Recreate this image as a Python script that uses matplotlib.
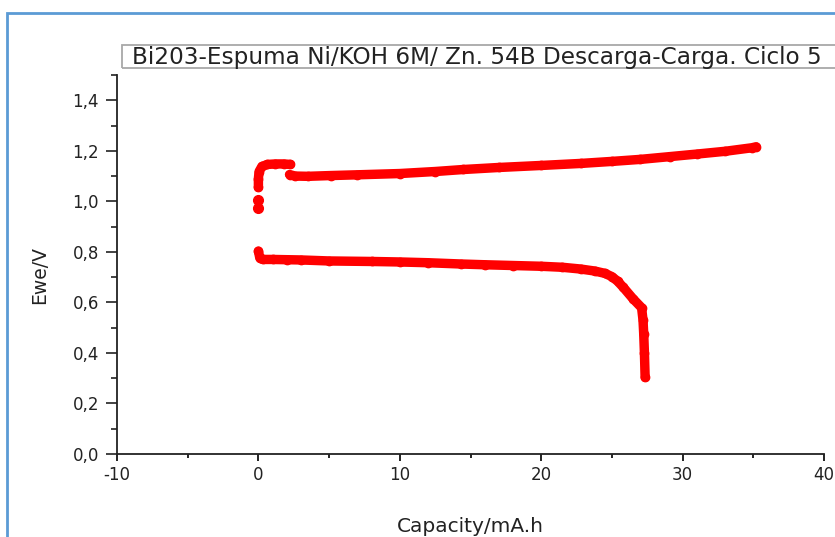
import matplotlib
matplotlib.use('Agg')
import matplotlib.pyplot as plt
from matplotlib.patches import Rectangle
from matplotlib.ticker import MultipleLocator, FuncFormatter

# discharge (lower curve)
discharge_cap = [0.0, 0.1, 0.3, 1.0, 2.0, 3.0, 5.0, 8.0, 10.0, 12.0, 14.3, 16.0, 18.0,
                 20.0, 21.5, 22.8, 23.8, 24.5, 25.0, 25.4, 25.8, 26.5, 27.1, 27.2, 27.25, 27.3, 27.35]
discharge_v = [0.803, 0.776, 0.770, 0.770, 0.769, 0.768, 0.764, 0.762, 0.760, 0.757, 0.752, 0.749, 0.746,
               0.743, 0.739, 0.732, 0.724, 0.715, 0.702, 0.684, 0.660, 0.614, 0.579, 0.530, 0.476, 0.400, 0.303]

# charge (upper curve): first two points are isolated, then a plateau, then a jump down
charge_cap = [0.0, 0.0,
              0.0, 0.0, 0.05, 0.25, 0.64, 1.2, 1.8, 2.26,
              2.2, 2.6, 3.5, 5.1, 7.0, 10.0, 12.5, 14.5, 17.0, 20.0, 22.8, 25.0, 27.0, 29.1, 31.0, 33.0, 34.9, 35.2]
charge_v = [0.975, 1.005,
            1.055, 1.090, 1.118, 1.138, 1.146, 1.148, 1.148, 1.146,
            1.106, 1.100, 1.099, 1.102, 1.105, 1.110, 1.118, 1.126, 1.134, 1.142, 1.150, 1.158, 1.166, 1.177,
            1.187, 1.198, 1.212, 1.216]

title_text = "Bi203-Espuma Ni/KOH 6M/ Zn. 54B Descarga-Carga. Ciclo 5"

W, H = 835, 537
fig = plt.figure(figsize=(W / 100, H / 100), dpi=100)
plt.rcParams['font.family'] = ['DejaVu Sans']

ax = fig.add_axes([117 / W, 1 - 454 / H, (824 - 117) / W, (454 - 75) / H])

red = '#ff0000'
style = dict(color=red, lw=6.8, solid_capstyle='round', solid_joinstyle='round',
             marker='o', ms=6, mec=red, mfc=red)
ax.plot(discharge_cap, discharge_v, **style)
ax.plot(charge_cap[2:10], charge_v[2:10], **style)
ax.plot(charge_cap[10:], charge_v[10:], **style)
ax.plot(charge_cap[:2], charge_v[:2], ls='none', marker='o', ms=7, color=red)

ax.set_xlim(-10, 40)
ax.set_ylim(0, 1.5)
ax.xaxis.set_major_locator(MultipleLocator(10))
ax.xaxis.set_minor_locator(MultipleLocator(5))
ax.yaxis.set_major_locator(MultipleLocator(0.2))
ax.yaxis.set_minor_locator(MultipleLocator(0.1))
ax.yaxis.set_major_formatter(FuncFormatter(lambda v, p: f"{v:.1f}".replace('.', ',')))
ax.xaxis.set_major_formatter(FuncFormatter(lambda v, p: f"{v:.0f}"))

for s in ['top', 'right']:
    ax.spines[s].set_visible(False)
for s in ['left', 'bottom']:
    ax.spines[s].set_linewidth(1.3)
    ax.spines[s].set_color('#222222')

ax.tick_params(axis='y', which='major', direction='out', length=8, width=1.2, pad=5,
               labelsize=12, colors='#222222')
ax.tick_params(axis='y', which='minor', direction='out', length=4, width=1.2, colors='#222222')
ax.tick_params(axis='x', which='major', direction='out', length=5, width=1.4, pad=4,
               labelsize=12, colors='#222222')
ax.tick_params(axis='x', which='minor', direction='out', length=3, width=1.4, colors='#222222')

ax.set_xlabel("Capacity/mA.h", fontsize=14.5, color='#222222')
ax.set_ylabel("Ewe/V", fontsize=13.5, color='#222222')
ax.xaxis.set_label_coords((470 - 117) / 707, (454 - 526) / 379)
ax.yaxis.set_label_coords((40 - 117) / 707, (454 - 275) / 379)
ax.xaxis.label.set_va('center')
ax.yaxis.label.set_va('center')

# title box, running off the right edge
fig.patches.append(Rectangle((122 / W, 1 - 68 / H), 1.0, 23 / H, transform=fig.transFigure,
                             fill=False, edgecolor='#a8a8a8', lw=1.3))
fig.text(132 / W, 1 - 57 / H, title_text, fontsize=16.7, color='#222222', va='center', ha='left')

# blue frame
fig.patches.append(Rectangle((7 / W, -0.1), 1.2, 1 - 13 / H + 0.1, transform=fig.transFigure,
                             fill=False, edgecolor='#5b9bd5', lw=2))

fig.savefig('out.png', dpi=100)
